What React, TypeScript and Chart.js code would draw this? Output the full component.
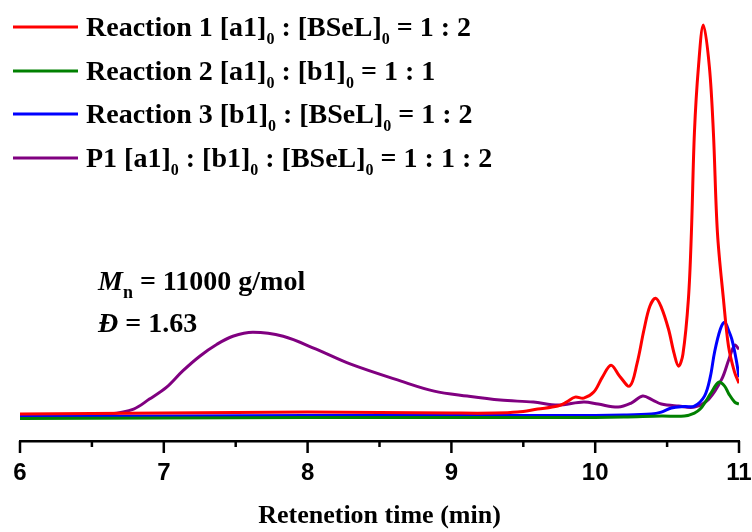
import React, { useEffect, useRef } from "react";
import { Chart, registerables } from "chart.js";

Chart.register(...registerables);

// ---- Data (retention time in min, detector response in arbitrary units) ----
const redTime = [6.0, 6.5, 7.0, 7.5, 8.0, 8.5, 9.0, 9.3, 9.46, 9.6, 9.74, 9.8, 9.86, 9.92, 9.99, 10.05, 10.11, 10.17, 10.24, 10.29, 10.34, 10.38, 10.42, 10.46, 10.51, 10.55, 10.58, 10.61, 10.648, 10.669, 10.69, 10.718, 10.752, 10.794, 10.822, 10.85, 10.892, 10.927, 10.969, 11.0];
const redValues = [27, 27.5, 28, 28.5, 29, 28.5, 28, 28, 29, 32, 35, 39, 44, 43, 49, 64, 76, 65, 55, 77, 112, 135, 143, 134, 112, 87, 75, 87, 142, 209, 309, 375, 417, 375, 309, 209, 142, 95, 69, 58];

const greenTime = [6.0, 7.0, 8.0, 9.0, 9.8, 10.2, 10.46, 10.62, 10.69, 10.73, 10.77, 10.8, 10.86, 10.9, 10.93, 10.97, 11.0];
const greenValues = [22.5, 23, 23.5, 23.5, 23.5, 24, 25, 25, 28, 32, 40, 47, 59, 55, 47, 39, 37];

const blueTime = [6.0, 7.0, 8.0, 9.0, 9.8, 10.2, 10.39, 10.46, 10.53, 10.62, 10.69, 10.76, 10.8, 10.83, 10.87, 10.9, 10.93, 10.95, 10.98, 11.0];
const blueValues = [24.5, 25, 25.5, 25.5, 25.5, 26, 27, 29, 33, 34.5, 35, 45, 64, 89, 112, 119, 110, 102, 82, 64];

const purpleTime = [6.0, 6.4, 6.62, 6.79, 6.9, 7.02, 7.13, 7.25, 7.37, 7.48, 7.62, 7.83, 8.06, 8.3, 8.65, 8.88, 9.11, 9.34, 9.57, 9.74, 9.92, 10.02, 10.16, 10.25, 10.33, 10.4, 10.46, 10.58, 10.69, 10.79, 10.88, 10.93, 10.97, 11.0];
const purpleValues = [25.5, 25.5, 27, 32, 42, 54, 70, 85, 97, 105, 109, 105, 92, 77, 60, 50, 45, 41, 39, 36, 39, 37, 34, 38, 45, 41, 37, 35, 34, 42, 62, 82, 96, 92];

const seriesColors = ["#FF0000", "#008000", "#0000FF", "#800080"];
const seriesNames = ["Reaction 1", "Reaction 2", "Reaction 3", "P1"];

const xMin = 6;
const xMax = 11;
const xStep = 0.5;
const xTitle = "Retenetion time (min)";

type Part = { t: string; sub?: boolean; italic?: boolean };

const legendLabels: Part[][] = [
  [{ t: "Reaction 1 [a1]" }, { t: "0", sub: true }, { t: " : [BSeL]" }, { t: "0", sub: true }, { t: " = 1 : 2" }],
  [{ t: "Reaction 2 [a1]" }, { t: "0", sub: true }, { t: " : [b1]" }, { t: "0", sub: true }, { t: " = 1 : 1" }],
  [{ t: "Reaction 3 [b1]" }, { t: "0", sub: true }, { t: " : [BSeL]" }, { t: "0", sub: true }, { t: " = 1 : 2" }],
  [{ t: "P1 [a1]" }, { t: "0", sub: true }, { t: " : [b1]" }, { t: "0", sub: true }, { t: " : [BSeL]" }, { t: "0", sub: true }, { t: " = 1 : 1 : 2" }],
];

const annotationLines: Part[][] = [
  [{ t: "M", italic: true }, { t: "n", sub: true }, { t: " = 11000 g/mol" }],
  [{ t: "Đ", italic: true }, { t: " = 1.63" }],
];

const SERIF = '"Liberation Serif", "Times New Roman", serif';
const SANS = '"Liberation Sans", Arial, sans-serif';

function drawRich(ctx: CanvasRenderingContext2D, x: number, y: number, parts: Part[], size: number, subSize: number, subDy: number) {
  ctx.textBaseline = "alphabetic";
  ctx.textAlign = "left";
  for (const p of parts) {
    ctx.font = `${p.italic ? "italic " : ""}bold ${p.sub ? subSize : size}px ${SERIF}`;
    ctx.fillText(p.t, x, p.sub ? y + subDy : y);
    x += ctx.measureText(p.t).width;
  }
}

const overlayPlugin = {
  id: "overlay",
  afterDraw(chart: any) {
    const ctx: CanvasRenderingContext2D = chart.ctx;
    const xs = chart.scales.x;
    ctx.save();
    // tick marks (major / minor) on the x axis
    ctx.strokeStyle = "#000";
    ctx.lineWidth = 2.5;
    for (const tk of xs.ticks) {
      const px = xs.getPixelForValue(tk.value);
      const major = Math.abs(tk.value - Math.round(tk.value)) < 1e-6;
      ctx.beginPath();
      ctx.moveTo(px, xs.top);
      ctx.lineTo(px, xs.top + (major ? 12 : 6));
      ctx.stroke();
    }
    // legend
    const rowY = [27, 71, 114, 158];
    legendLabels.forEach((parts, i) => {
      ctx.strokeStyle = seriesColors[i];
      ctx.lineWidth = 3;
      ctx.beginPath();
      ctx.moveTo(13, rowY[i]);
      ctx.lineTo(78, rowY[i]);
      ctx.stroke();
      ctx.fillStyle = "#000";
      drawRich(ctx, 86, rowY[i] + 9, parts, 28, 16, 8);
    });
    // annotation
    ctx.fillStyle = "#000";
    drawRich(ctx, 98, 290, annotationLines[0], 28, 18, 8);
    drawRich(ctx, 98, 332, annotationLines[1], 28, 18, 8);
    ctx.restore();
  },
};

function toPoints(t: number[], v: number[]) {
  return t.map((x, i) => ({ x, y: v[i] }));
}

export default function App() {
  const ref = useRef<HTMLCanvasElement | null>(null);
  useEffect(() => {
    document.body.style.margin = "0";
    const canvas = ref.current!;
    const times = [redTime, greenTime, blueTime, purpleTime];
    const values = [redValues, greenValues, blueValues, purpleValues];
    const chart = new Chart(canvas, {
      type: "line",
      data: {
        datasets: seriesNames.map((name, i) => ({
          label: name,
          data: toPoints(times[i], values[i]),
          borderColor: seriesColors[i],
          backgroundColor: seriesColors[i],
          borderWidth: 3,
          pointRadius: 0,
          fill: false,
          tension: 0.35,
        })),
      },
      options: {
        responsive: false,
        animation: false,
        layout: { padding: { left: 20, right: 13, top: 10, bottom: 0 } },
        plugins: { legend: { display: false }, tooltip: { enabled: false } },
        scales: {
          x: {
            type: "linear",
            min: xMin,
            max: xMax,
            grid: { display: false },
            border: { display: true, color: "#000", width: 2.5 },
            ticks: {
              stepSize: xStep,
              autoSkip: false,
              maxRotation: 0,
              color: "#000",
              padding: 10,
              font: { family: SANS, size: 24, weight: "bold" },
              callback: (v: any) => (Math.abs(v - Math.round(v)) < 1e-6 ? String(Math.round(v)) : ""),
            },
            title: {
              display: true,
              text: xTitle,
              color: "#000",
              padding: { top: 0, bottom: 0 },
              font: { family: SERIF, size: 26, weight: "bold" },
            },
            afterFit: (s: any) => {
              s.height = 91;
              s.paddingLeft = 0;
              s.paddingRight = 0;
            },
          },
          y: { display: false, min: 0, max: 432 },
        },
      },
      plugins: [overlayPlugin],
    });
    return () => chart.destroy();
  }, []);
  return (
    <div style={{ width: 752, height: 532 }}>
      <canvas ref={ref} width={752} height={532} />
    </div>
  );
}
